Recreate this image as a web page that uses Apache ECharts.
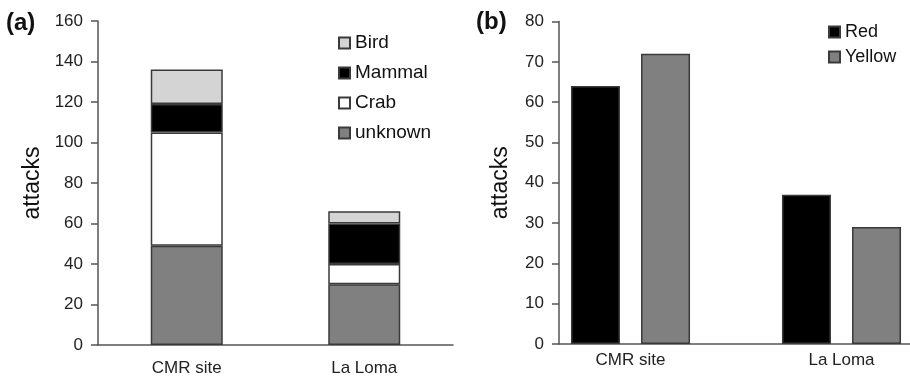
<!DOCTYPE html>
<html><head><meta charset="utf-8">
<script src="https://cdn.jsdelivr.net/npm/echarts@6/dist/echarts.min.js"></script>
<style>html,body{margin:0;padding:0;background:#fff}#c{width:910px;height:378px}</style>
</head><body><div id="c"></div>
<script>
// ---- Panel (a) data ----
const sitesA = ['CMR site', 'La Loma'];
const unknownA = [49, 30];
const crabA = [56, 10];
const mammalA = [14, 20];
const birdA = [17, 6];
const yMinA = 0, yMaxA = 160, yStepA = 20;
// ---- Panel (b) data ----
const sitesB = ['CMR site', 'La Loma'];
const redB = [64, 37];
const yellowB = [72, 29];
const yMinB = 0, yMaxB = 80, yStepB = 10;

const FONT = '"Liberation Sans", Arial, sans-serif';
const AX = '#555';
const EDGE = '#3a3a3a';

const chart = echarts.init(document.getElementById('c'), null, {renderer: 'canvas'});

function barItem(color) {
  return {color: color, borderColor: EDGE, borderWidth: 1.5};
}

const option = {
  animation: false,
  backgroundColor: '#fff',
  textStyle: {fontFamily: FONT},
  title: [
    {text: '(a)', left: 6, top: 11, padding: 0,
     textStyle: {fontFamily: FONT, fontSize: 24, fontWeight: 'bold', color: '#111'}},
    {text: '(b)', left: 476, top: 10, padding: 0,
     textStyle: {fontFamily: FONT, fontSize: 24, fontWeight: 'bold', color: '#111'}}
  ],
  legend: [
    {data: ['Bird', 'Mammal', 'Crab', 'unknown'], orient: 'vertical', left: 338, top: 33,
     padding: 0, itemWidth: 11, itemHeight: 11, itemGap: 10, icon: 'rect',
     textStyle: {fontFamily: FONT, fontSize: 19, lineHeight: 20, color: '#111'}},
    {data: ['Red', 'Yellow'], orient: 'vertical', left: 828, top: 23,
     padding: 0, itemWidth: 11, itemHeight: 11, itemGap: 7, icon: 'rect',
     textStyle: {fontFamily: FONT, fontSize: 18, lineHeight: 18, color: '#111'}}
  ],
  grid: [
    {left: 98, width: 355, top: 21, height: 324, outerBoundsMode: 'none', containLabel: false},
    {left: 525, width: 422, top: 21.5, height: 322.5, outerBoundsMode: 'none', containLabel: false},
    {left: 559, width: 351, top: 21.5, height: 322.5, outerBoundsMode: 'none', containLabel: false}
  ],
  xAxis: [
    {gridIndex: 0, type: 'category', data: sitesA,
     axisLine: {show: true, lineStyle: {color: AX, width: 1.5}},
     axisTick: {show: false},
     axisLabel: {fontFamily: FONT, fontSize: 17, color: '#222', margin: 15}},
    {gridIndex: 1, type: 'category', data: sitesB,
     axisLine: {show: false}, axisTick: {show: false},
     axisLabel: {fontFamily: FONT, fontSize: 17, color: '#222', margin: 8}},
    {gridIndex: 2, type: 'category', data: sitesB,
     axisLine: {show: true, lineStyle: {color: AX, width: 1.5}},
     axisTick: {show: false}, axisLabel: {show: false}}
  ],
  yAxis: [
    {gridIndex: 0, type: 'value', min: yMinA, max: yMaxA, interval: yStepA,
     axisLine: {show: true, lineStyle: {color: AX, width: 1.5}},
     axisTick: {show: true, inside: false, length: 7, lineStyle: {color: AX, width: 1.5}},
     axisLabel: {fontFamily: FONT, fontSize: 17, color: '#222', margin: 15},
     splitLine: {show: false},
     name: 'attacks', nameLocation: 'middle', nameGap: 54,
     nameTextStyle: {fontFamily: FONT, fontSize: 23, color: '#111'}},
    {gridIndex: 1, type: 'value', min: yMinB, max: yMaxB, interval: yStepB, show: false,
     splitLine: {show: false}},
    {gridIndex: 2, type: 'value', min: yMinB, max: yMaxB, interval: yStepB,
     axisLine: {show: true, lineStyle: {color: AX, width: 1.5}},
     axisTick: {show: true, inside: false, length: 7, lineStyle: {color: AX, width: 1.5}},
     axisLabel: {fontFamily: FONT, fontSize: 17, color: '#222', margin: 15},
     splitLine: {show: false},
     name: 'attacks', nameLocation: 'middle', nameGap: 47,
     nameTextStyle: {fontFamily: FONT, fontSize: 23, color: '#111'}}
  ],
  series: [
    {name: 'unknown', type: 'bar', stack: 'a', xAxisIndex: 0, yAxisIndex: 0, barWidth: 72,
     data: unknownA, itemStyle: barItem('#808080')},
    {name: 'Crab', type: 'bar', stack: 'a', xAxisIndex: 0, yAxisIndex: 0, barWidth: 72,
     data: crabA, itemStyle: barItem('#ffffff')},
    {name: 'Mammal', type: 'bar', stack: 'a', xAxisIndex: 0, yAxisIndex: 0, barWidth: 72,
     data: mammalA, itemStyle: barItem('#000000')},
    {name: 'Bird', type: 'bar', stack: 'a', xAxisIndex: 0, yAxisIndex: 0, barWidth: 72,
     data: birdA, itemStyle: barItem('#d4d4d4')},
    {name: 'Red', type: 'bar', xAxisIndex: 1, yAxisIndex: 1, barWidth: 49, barGap: '43%',
     data: redB, itemStyle: barItem('#000000')},
    {name: 'Yellow', type: 'bar', xAxisIndex: 1, yAxisIndex: 1, barWidth: 49, barGap: '43%',
     data: yellowB, itemStyle: barItem('#808080')}
  ]
};
chart.setOption(option);
</script>
</body></html>
